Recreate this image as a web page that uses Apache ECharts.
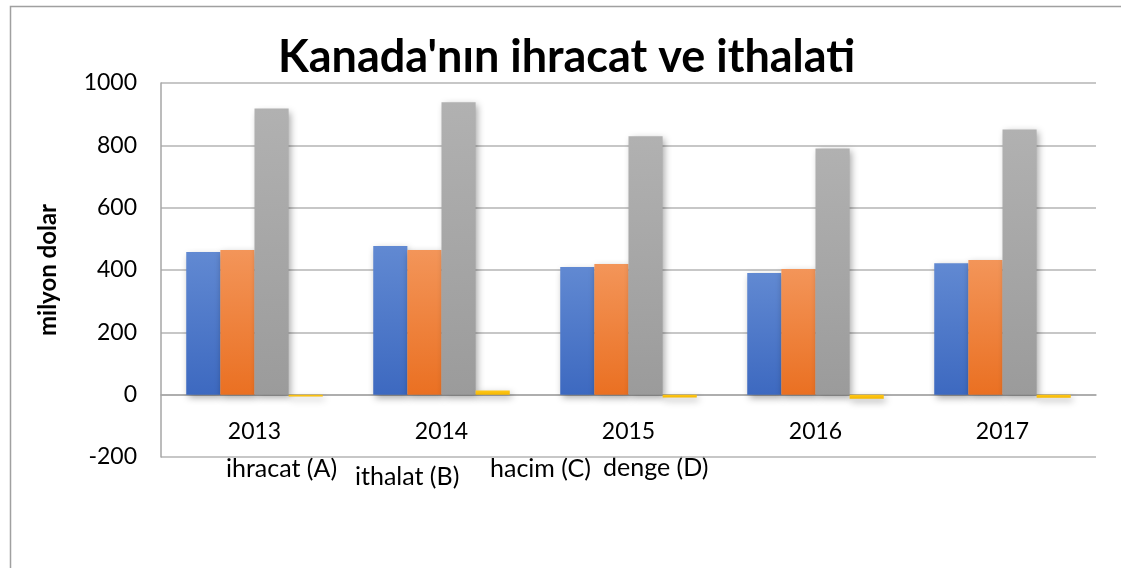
<!DOCTYPE html>
<html>
<head>
<meta charset="utf-8">
<script src="https://cdn.jsdelivr.net/npm/echarts@6/dist/echarts.min.js"></script>
<style>
html,body{margin:0;padding:0;background:#fff;}
#chart{width:1121px;height:568px;}
</style>
</head>
<body>
<div id="chart"></div>
<script>
const title = "Kanada'nın ihracat ve ithalati";
const yAxisName = "milyon dolar";
const years = ["2013", "2014", "2015", "2016", "2017"];
const seriesNames = ["ihracat (A)", "ithalat (B)", "hacim (C)", "denge (D)"];
const ihracat = [458, 477, 410, 390, 422];
const ithalat = [464, 464, 419, 403, 432];
const hacim = [918, 938, 829, 790, 851];
const denge = [-6, 13, -9, -13, -10];
const yTicks = [-200, 0, 200, 400, 600, 800, 1000];

const FONT = "Lato, Carlito, 'Open Sans', sans-serif";
const chart = echarts.init(document.getElementById('chart'), null, {renderer: 'canvas'});

function grad(top, bottom) {
  return new echarts.graphic.LinearGradient(0, 0, 0, 1, [
    {offset: 0, color: top}, {offset: 1, color: bottom}
  ]);
}
const styles = [
  {color: grad('#6189d2', '#3d69c0')},
  {color: grad('#f39559', '#ea7022')},
  {color: grad('#b1b1b1', '#9b9b9b')},
  {color: grad('#ffc719', '#f5b800')}
];
const datasets = [ihracat, ithalat, hacim, denge];

const legendPos = [[226, 470], [355, 478], [490, 470], [603, 469]];

// plot geometry: grid top 83, bottom at y=457, value range -200..1000
const gridTop = 83, gridBottom = 457;
const zeroOffset = (gridBottom - gridTop) * (0 - (-200)) / (1000 - (-200));

chart.setOption({
  animation: false,
  backgroundColor: '#ffffff',
  title: {
    text: title, left: 273, top: 30,
    textStyle: {fontFamily: FONT, fontWeight: 'bold', fontSize: 45, color: '#000'}
  },
  grid: {left: 161, right: 25, top: gridTop, bottom: 568 - gridBottom, containLabel: false},
  xAxis: {
    type: 'category', data: years,
    offset: -zeroOffset,
    axisLine: {onZero: false, lineStyle: {color: '#a6a6a6', width: 1.5}},
    axisTick: {show: false},
    axisLabel: {margin: 25, fontFamily: FONT, fontSize: 23, color: '#000'}
  },
  yAxis: {
    type: 'value', min: -200, max: 1000, interval: 200,
    name: yAxisName, nameLocation: 'middle', nameGap: 101,
    nameTextStyle: {fontFamily: FONT, fontWeight: 'bold', fontSize: 24, color: '#000'},
    axisLine: {show: true, lineStyle: {color: '#a6a6a6', width: 1.5}},
    axisTick: {show: false},
    axisLabel: {margin: 24, fontFamily: FONT, fontSize: 23, color: '#000',
      formatter: v => yTicks.includes(v) ? String(v) : ''},
    splitLine: {lineStyle: {color: '#b4b4b4', width: 1.5}}
  },
  series: datasets.map((d, i) => ({
    name: seriesNames[i], type: 'bar', data: d,
    barGap: '0%', barCategoryGap: '27%',
    itemStyle: Object.assign({}, styles[i], {
      shadowBlur: 7, shadowColor: 'rgba(0,0,0,0.35)', shadowOffsetX: 2, shadowOffsetY: 3
    })
  })),
  graphic: [
    {type: 'rect', left: 8, top: 4, shape: {width: 1300, height: 700},
     style: {fill: 'none', stroke: '#a0a0a0', lineWidth: 1.5}, z: -1}
  ].concat(seriesNames.map((n, i) => ({
    type: 'text', left: legendPos[i][0], top: legendPos[i][1] - 14,
    style: {text: n, fontFamily: FONT, fontSize: 25, fill: '#000'}
  })))
});
</script>
</body>
</html>
